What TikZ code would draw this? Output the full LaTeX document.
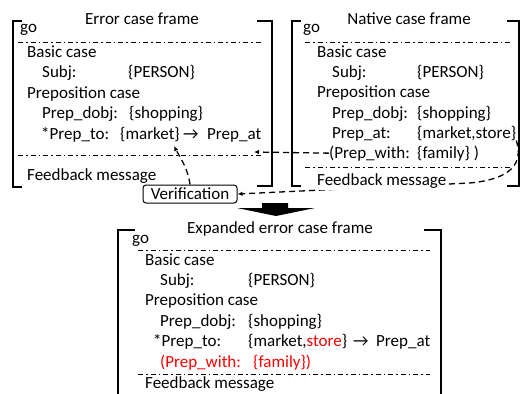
\documentclass[tikz,border=0pt]{standalone}
\usepackage{fontspec}
\setmainfont{Carlito}
\usetikzlibrary{arrows.meta}

\begin{document}
\begin{tikzpicture}[x=1pt,y=-1pt,
  font=\fontsize{17}{20}\selectfont,
  txt/.style={anchor=base west,inner sep=0pt},
  ttl/.style={anchor=base,inner sep=0pt},
  brk/.style={line width=2pt},
  sep/.style={line width=1pt,dash pattern=on 5pt off 3pt on 1.5pt off 3pt},
  link/.style={line width=1.3pt,dash pattern=on 6pt off 4pt,-{Latex[length=5pt,width=4.5pt]}},
  verif/.style={draw,line width=1pt,rounded corners=3pt,minimum width=94pt,minimum height=18pt,inner sep=0pt}
  ]

  \useasboundingbox (0,0) rectangle (520,394);

  \draw[brk] (22,21) -- (13,21) -- (13,187) -- (22,187);
  \draw[brk] (257,21) -- (272,21) -- (272,186) -- (257,186);
  \draw[sep] (18,42) -- (262,42);
  \draw[sep] (18,155) -- (262,155);
  \node[ttl] (etitle) at (142,24) {Error case frame};
  \node[txt] (ego) at (20,32) {go};
  \node[txt] (ebasic) at (27,57) {Basic case};
  \node[txt] (esubj) at (42,77) {Subj:};
  \node[txt] (eperson) at (128,77) {\{PERSON\}};
  \node[txt] (eprep) at (27,98) {Preposition case};
  \node[txt] (edobj) at (42,118) {Prep\_dobj:};
  \node[txt] (eshop) at (129,118) {\{shopping\}};
  \node[txt] (eto) at (41,139) {*Prep\_to:};
  \node[txt] (emkt) at (120,139) {\{market\}};
  \node[txt] (earrow) at (183,139) {→};
  \node[txt] (eat) at (207,139) {Prep\_at};
  \node[txt] (efb) at (27,180) {Feedback message};

  \draw[brk] (301,21) -- (292,21) -- (292,186) -- (301,186);
  \draw[brk] (507,21) -- (519,21) -- (519,186) -- (507,186);
  \draw[sep] (305,42) -- (512,42);
  \draw[sep] (305,167) -- (512,167);
  \node[ttl] (ntitle) at (409,24) {Native case frame};
  \node[txt] (ngo) at (303,32) {go};
  \node[txt] (nbasic) at (317,57) {Basic case};
  \node[txt] (nsubj) at (332,77) {Subj:};
  \node[txt] (nperson) at (417,77) {\{PERSON\}};
  \node[txt] (nprep) at (317,97) {Preposition case};
  \node[txt] (ndobj) at (332,118) {Prep\_dobj:};
  \node[txt] (nshop) at (417,118) {\{shopping\}};
  \node[txt] (nat) at (332,138) {Prep\_at:};
  \node[txt] (nmkt) at (417,138) {\{market,store\}};
  \node[txt] (nwith) at (329,158) {(Prep\_with:};
  \node[txt] (nfam) at (417,158) {\{family\} )};

  \node[verif] (verif) at (190,194) {Verification};
  \coordinate (atip) at (254,152);
  \coordinate (mtip) at (174,146);

  \draw[link] (nwith.west) -- (atip);
  \draw[link] (nmkt.south east) .. controls (521,156) and (521,178) .. (470,183) -- (verif.east);
  \draw[link] (verif.north) to[out=98,in=-62] (mtip);
  \node[txt,fill=white,inner ysep=2pt] (nfb) at (317,185) {Feedback message};

  \fill (262,203) -- (288,203) -- (288,208) -- (315,208) -- (276,216) -- (237,208) -- (262,208) -- cycle;

  \draw[brk] (135,230) -- (118,230) -- (118,400);
  \draw[brk] (424,230) -- (441,230) -- (441,400);
  \draw[sep] (138,250) -- (430,250);
  \draw[sep] (138,374) -- (430,374);
  \node[ttl] (xtitle) at (280,233) {Expanded error case frame};
  \node[txt] (xgo) at (132,243) {go};
  \node[txt] (xbasic) at (145,265) {Basic case};
  \node[txt] (xsubj) at (160,285) {Subj:};
  \node[txt] (xperson) at (248,285) {\{PERSON\}};
  \node[txt] (xprep) at (145,305) {Preposition case};
  \node[txt] (xdobj) at (160,326) {Prep\_dobj:};
  \node[txt] (xshop) at (248,326) {\{shopping\}};
  \node[txt] (xto) at (153,346) {*Prep\_to:};
  \node[txt] (xmkt) at (248,346) {\{market,\textcolor{red}{store}\}};
  \node[txt] (xarrow) at (353,346) {→};
  \node[txt] (xat) at (376,346) {Prep\_at};
  \node[txt,text=red] (xwith) at (160,367) {(Prep\_with:};
  \node[txt,text=red] (xfam) at (253,367) {\{family\})};
  \node[txt] (xfb) at (145,388) {Feedback message};

\end{tikzpicture}
\end{document}
